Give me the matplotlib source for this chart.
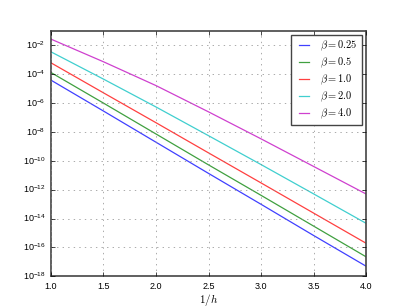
import matplotlib
matplotlib.use('Agg')
import matplotlib.pyplot as plt
import matplotlib.ticker as mticker
import numpy as np

# values, log10 of the error at each 1/h
inv_h = [1.0, 1.5, 2.0, 2.5, 3.0, 3.5, 4.0]
betas = ['0.25', '0.5', '1.0', '2.0', '4.0']
log_err_025 = [-4.42, -6.56, -8.72, -10.88, -13.02, -15.18, -17.31]
log_err_05 = [-3.89, -6.01, -8.15, -10.29, -12.40, -14.53, -16.66]
log_err_1 = [-3.22, -5.30, -7.37, -9.46, -11.54, -13.63, -15.72]
log_err_2 = [-2.46, -4.35, -6.28, -8.27, -10.27, -12.30, -14.34]
log_err_4 = [-1.58, -3.15, -4.80, -6.62, -8.49, -10.40, -12.31]

plt.style.use('classic')
plt.rcParams['mathtext.fontset'] = 'cm'
plt.rcParams['font.family'] = ['Liberation Sans', 'DejaVu Sans']

fig = plt.figure(figsize=(4.07, 3.07), dpi=100)
ax = fig.add_subplot(111)

colors = ['b', 'g', 'r', 'c', 'm']
series = [log_err_025, log_err_05, log_err_1, log_err_2, log_err_4]
for b, vals, col in zip(betas, series, colors):
    ax.semilogy(inv_h, 10.0 ** np.array(vals), color=col, lw=0.9, alpha=0.75,
                label=r'$\beta=%s$' % b)

ax.set_xlim(1.0, 4.0)
ax.set_ylim(1e-18, 1e-1)
ax.set_yticks(10.0 ** np.arange(-18, -1, 2))
ax.yaxis.set_minor_locator(mticker.NullLocator())
ax.tick_params(labelsize=6.5, length=3)
ax.grid(True, color='#888888')
for s in ax.spines.values():
    s.set_color('#444444')
    s.set_linewidth(1.2)
ax.set_xlabel(r'$1/h$', fontsize=8, labelpad=1)
leg = ax.legend(loc='upper right', fontsize=7.5, handlelength=1.6,
                labelspacing=0.25, borderaxespad=0.4)
leg.get_frame().set_edgecolor('#444444')

plt.savefig('out.png', dpi=100)
